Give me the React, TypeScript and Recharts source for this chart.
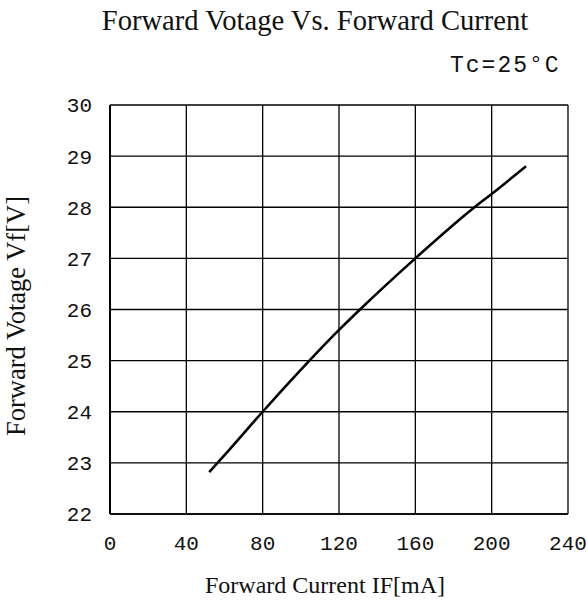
import { CartesianGrid, Line, LineChart, XAxis, YAxis } from "recharts";

const currentMA = [52, 60, 80, 104.5, 120, 131, 160, 191, 200, 218];
const forwardV = [22.82, 23.15, 24.0, 25.0, 25.6, 26.0, 27.0, 28.0, 28.26, 28.8];
const xTicks = [0, 40, 80, 120, 160, 200, 240];
const yTicks = [22, 23, 24, 25, 26, 27, 28, 29, 30];

const data = currentMA.map((c, i) => ({ current: c, vf: forwardV[i] }));

const tickFont = { fontFamily: "'Liberation Mono', monospace", fontSize: 21, fill: "#111" };
const serif = "'Liberation Serif', 'Times New Roman', serif";

export default function App() {
  return (
    <div style={{ position: "absolute", left: 0, top: 0, width: 588, height: 601, background: "#fff" }}>
      <LineChart width={588} height={601} data={data} margin={{ top: 105, right: 20, left: 50, bottom: 47 }}>
        <CartesianGrid stroke="#000" strokeWidth={1.3} strokeOpacity={1} />
        <XAxis
          type="number"
          dataKey="current"
          domain={[0, 240]}
          ticks={xTicks}
          height={40}
          tickLine={false}
          tickSize={0}
          tickMargin={21}
          axisLine={{ stroke: "#000", strokeWidth: 1.3 }}
          tick={tickFont}
        />
        <YAxis
          type="number"
          domain={[22, 30]}
          ticks={yTicks}
          width={60}
          tickLine={false}
          tickSize={0}
          tickMargin={18}
          axisLine={{ stroke: "#000", strokeWidth: 2 }}
          tick={tickFont}
        />
        <Line
          type="monotone"
          dataKey="vf"
          stroke="#000"
          strokeWidth={2.6}
          dot={false}
          isAnimationActive={false}
        />
      </LineChart>
      <svg width={588} height={601} style={{ position: "absolute", left: 0, top: 0, pointerEvents: "none" }}>
        <text x={315} y={30} textAnchor="middle" fontFamily={serif} fontSize={28.6} fill="#111">
          Forward Votage Vs. Forward Current
        </text>
        <text x={450} y={72} fontFamily="'Liberation Mono', monospace" fontSize={23} fill="#111" letterSpacing={2}>
          Tc=25°C
        </text>
        <text x={325} y={593} textAnchor="middle" fontFamily={serif} fontSize={24} fill="#111">
          Forward Current IF[mA]
        </text>
        <text
          x={0}
          y={0}
          transform="translate(25,316) rotate(-90)"
          textAnchor="middle"
          fontFamily={serif}
          fontSize={26.5}
          fill="#111"
        >
          Forward Votage Vf[V]
        </text>
      </svg>
    </div>
  );
}
